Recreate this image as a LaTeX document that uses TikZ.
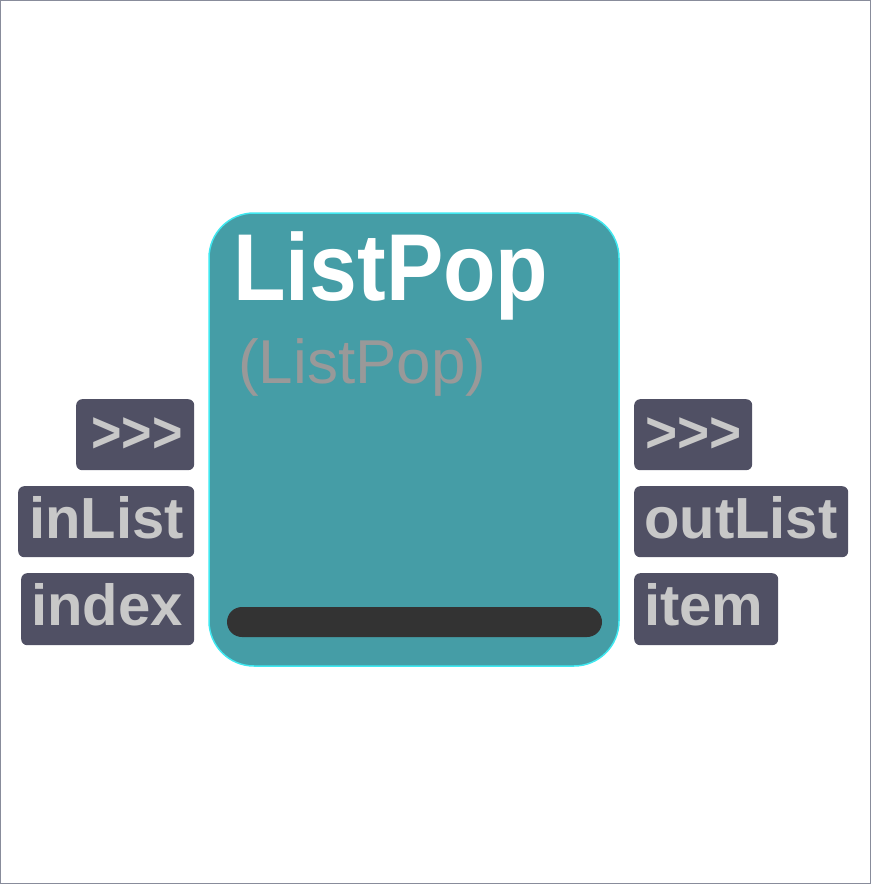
\documentclass[tikz,border=0pt]{standalone}
\usepackage{fontspec}
\setmainfont{Liberation Sans}
\definecolor{teal1}{RGB}{69,157,166}
\definecolor{cyanb}{RGB}{64,232,240}
\definecolor{portfill}{RGB}{80,80,100}
\definecolor{porttext}{RGB}{200,200,200}
\definecolor{subgray}{RGB}{153,153,153}
\definecolor{bardark}{RGB}{51,51,51}
\definecolor{framegray}{RGB}{136,140,155}
\begin{document}
\begin{tikzpicture}[x=1pt,y=-1pt,
  portbox/.style={fill=portfill,rounded corners=6pt,inner sep=0pt,anchor=north west},
  porttxt/.style={text=porttext,inner sep=0pt,font=\fontsize{58}{60}\selectfont\bfseries},
]
\useasboundingbox (0,0) rectangle (871,884);
\draw[framegray,line width=1.2pt] (0.6,0.6) rectangle (870.4,883.4);
% main node
\node[draw=cyanb,fill=teal1,line width=1.5pt,rounded corners=45pt,minimum width=410pt,minimum height=453pt,inner sep=0pt] (main) at (414,439.5) {};
\node[inner sep=0pt,anchor=base west,text=white,font=\fontsize{95}{97}\selectfont\bfseries] (title) at (233,300) {\scalebox{0.905}[1]{ListPop}};
\node[inner sep=0pt,anchor=base west,text=subgray,font=\fontsize{62}{64}\selectfont] (sub) at (238,383) {(ListPop)};
\node[fill=bardark,rounded corners=15pt,minimum width=375pt,minimum height=30pt,inner sep=0pt] (bar) at (414.5,622) {};
% left ports
\node[portbox,minimum width=118pt,minimum height=71pt] (lb1) at (76,399) {};
\node[portbox,minimum width=176pt,minimum height=71pt] (lb2) at (18,486) {};
\node[portbox,minimum width=173pt,minimum height=72pt] (lb3) at (21,573) {};
\node[porttxt,anchor=base east] (lt1) at (183,452) {\scalebox{0.9}[1]{>{}>{}>}};
\node[porttxt,anchor=base east] (lt2) at (184,538) {inList};
\node[porttxt,anchor=base east] (lt3) at (183,625) {index};
% right ports
\node[portbox,minimum width=118pt,minimum height=71pt] (rb1) at (634,399) {};
\node[portbox,minimum width=214pt,minimum height=71pt] (rb2) at (634,486) {};
\node[portbox,minimum width=144pt,minimum height=72pt] (rb3) at (634,573) {};
\node[porttxt,anchor=base west] (rt1) at (645,452) {\scalebox{0.95}[1]{>{}>{}>}};
\node[porttxt,anchor=base west] (rt2) at (644,538) {outList};
\node[porttxt,anchor=base west] (rt3) at (644,625) {item};
\end{tikzpicture}
\end{document}
